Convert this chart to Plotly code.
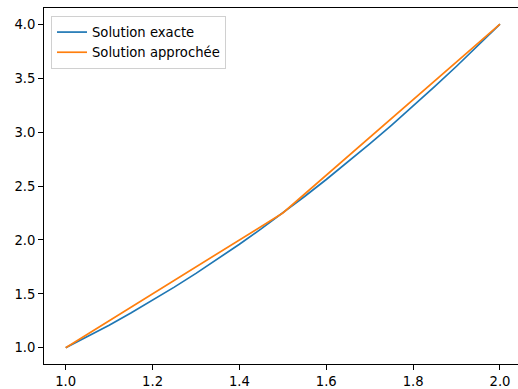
import plotly.graph_objects as go

# Exact solution
x_exact = [1.0, 1.05, 1.1, 1.15, 1.2, 1.25, 1.3, 1.35, 1.4, 1.45, 1.5,
           1.55, 1.6, 1.65, 1.7, 1.75, 1.8, 1.85, 1.9, 1.95, 2.0]
y_exact = [1.0, 1.1025, 1.21, 1.3225, 1.44, 1.5625, 1.69, 1.8225, 1.96, 2.1025, 2.25,
           2.4025, 2.56, 2.7225, 2.89, 3.0625, 3.24, 3.4225, 3.61, 3.8025, 4.0]

# Approximate solution
x_approx = [1.0, 1.5, 2.0]
y_approx = [1.0, 2.25, 4.0]

x_ticks = [1.0, 1.2, 1.4, 1.6, 1.8, 2.0]
y_ticks = [1.0, 1.5, 2.0, 2.5, 3.0, 3.5, 4.0]

FS = 13.2
fig = go.Figure()
fig.add_trace(go.Scatter(x=x_exact, y=y_exact, mode="lines", name="Solution exacte",
                         line=dict(color="#1f77b4", width=1.7)))
fig.add_trace(go.Scatter(x=x_approx, y=y_approx, mode="lines", name="Solution approchée",
                         line=dict(color="#ff7f0e", width=1.7)))

fig.update_layout(
    width=518, height=389,
    margin=dict(l=44, r=0, t=8, b=25),
    paper_bgcolor="white", plot_bgcolor="white",
    font=dict(family="DejaVu Sans", size=FS, color="black"),
    showlegend=True,
    legend=dict(x=(51-44)/474, y=1-(16-8)/356, xanchor="left", yanchor="top",
                bgcolor="rgba(255,255,255,0.8)", bordercolor="#d0d0d0", borderwidth=1,
                font=dict(size=FS), itemwidth=30, tracegroupgap=0),
    xaxis=dict(range=[0.95, 2.0415], tickvals=x_ticks, ticktext=[f"{v:.1f}" for v in x_ticks],
               showgrid=False, zeroline=False, showline=True, linecolor="black", linewidth=1,
               mirror=True, ticks="outside", ticklen=5, tickcolor="black", tickwidth=1),
    yaxis=dict(range=[0.85, 4.15], tickvals=y_ticks, ticktext=[f"{v:.1f}" for v in y_ticks],
               showgrid=False, zeroline=False, showline=True, linecolor="black", linewidth=1,
               ticks="outside", ticklen=5, tickcolor="black", tickwidth=1),
)
fig.write_html("out.html")
